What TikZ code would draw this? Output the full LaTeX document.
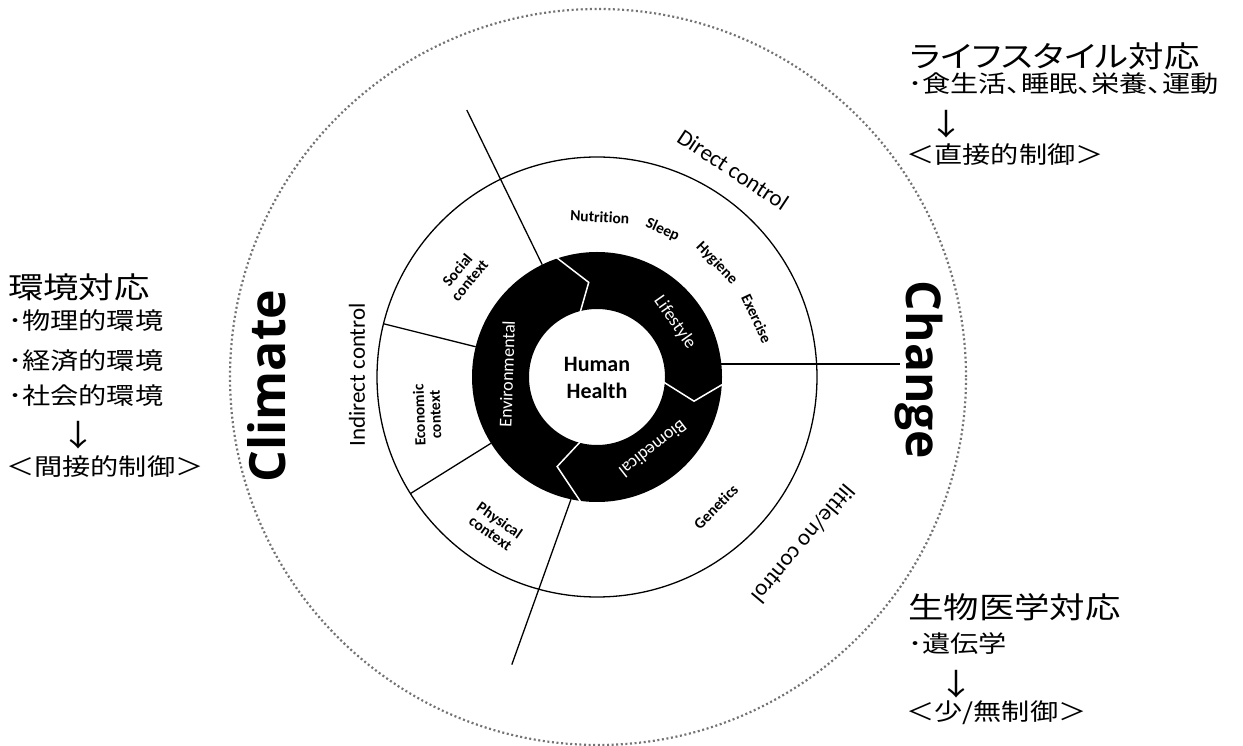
\documentclass[tikz,border=0pt]{standalone}
\usepackage{fontspec}
\setmainfont{Carlito}[Ligatures=NoCommon]
\newfontfamily\bigfont{Open Sans}
\newfontfamily\jpfont[FakeStretch=1.2]{Noto Sans CJK JP}
\newfontfamily\jppfont[FakeStretch=1.2,RawFeature=+palt]{Noto Sans CJK JP}

\tikzset{
  wheelline/.style={black,line width=1.3pt},
  ringtext/.style={white,font=\fontsize{18}{18}\selectfont},
  factor/.style={font=\bfseries\fontsize{15.5}{16}\selectfont,align=center,inner sep=0pt},
  ctrl/.style={font=\fontsize{23}{23}\selectfont,inner sep=0pt},
  jphead/.style={anchor=west,inner sep=0pt,font=\jpfont\fontsize{29.5}{30}\selectfont},
  jpline/.style={anchor=west,inner sep=0pt,font=\jpfont\fontsize{23.5}{24}\selectfont},
  jparrow/.style={inner sep=0pt,font=\jpfont\fontsize{30}{30}\selectfont},
}

\begin{document}
\begin{tikzpicture}[x=1pt,y=1pt]
\useasboundingbox (0,0) rectangle (1243,745);

\begin{scope}[shift={(597,368)}]

%outer dotted circle
\draw[black!55,line width=2.2pt,dash pattern=on 2pt off 2.6pt] (1,0) circle (368pt);

%middle circle
\draw[wheelline] (0,0) circle (220pt);

%black ring
\fill[black,even odd rule] (0,0) circle (125pt) (0,0) circle (68pt);

%ring joints
\draw[white,line width=1.5pt] (109:127) -- (95:95) -- (105:66);
\draw[white,line width=1.5pt] (-3:127) -- (-14:100) -- (-4:66);
\draw[white,line width=1.5pt] (263:127) -- (246:98) -- (256:66);

%spokes
\draw[wheelline] (116:125) -- (116:297);
\draw[wheelline] (166:125) -- (166:220);
\draw[wheelline] (212:125) -- (212:220);
\draw[wheelline] (258:125) -- (253.5:300);
\draw[wheelline] (124.3,13) -- (303,13);

%centre
\node[font=\bfseries\fontsize{22}{27}\selectfont,align=center] (health) at (0,-1) {Human\\Health};

%ring
\node[ringtext,rotate=-55] (life) at (35:95) {Lifestyle};
\node[ringtext,rotate=88] (env) at (178:90) {Environmental};
\node[ringtext,rotate=-142] (bio) at (-52:91) {Biomedical};

%direct
\node[factor,rotate=-3] (nutr) at (89:160) {Nutrition};
\node[factor,rotate=-24] (sleep) at (66:161) {Sleep};
\node[factor,rotate=-46] (hyg) at (43.5:165) {Hygiene};
\node[factor,rotate=-65] (exer) at (20:170) {Exercise};

%indirect
\node[factor,rotate=50] (soc) at (142.7:168) {Social\\context};
\node[factor,rotate=92] (eco) at (192.6:174) {Economic\\context};
\node[factor,rotate=-35] (phys) at (235.8:181) {Physical\\context};

%little
\node[factor,rotate=45] (gen) at (-47.5:176) {Genetics};

%control labels
\node[ctrl,rotate=-33.5] (direct) at (56.7:248) {Direct control};
\node[ctrl,rotate=90] (indirect) at (179.5:240) {Indirect control};
\node[ctrl,rotate=-130] (little) at (-39:265) {little/no control};

%climate change
\node[font=\bigfont\bfseries\fontsize{50}{50}\selectfont,rotate=90] (climate) at (-330,-9) {Climate};
\node[font=\bigfont\bfseries\fontsize{48}{48}\selectfont,rotate=-90] (change) at (322,7) {Change};

\end{scope}

%environment
\node[jphead] (envh) at (8,458) {環境対応};
\node[jpline] (env1) at (8,424) {･物理的環境};
\node[jpline] (env2) at (8,384) {･経済的環境};
\node[jpline] (env3) at (8,349) {･社会的環境};
\node[jparrow] (envarr) at (78,310) {↓};
\node[jpline] (envc) at (6,278) {＜間接的制御＞};

%lifestyle
\node[jphead,font=\jppfont\fontsize{29.5}{30}\selectfont] (lifeh) at (910,689) {ライフスタイル対応};
\node[jpline,font=\jppfont\fontsize{23.5}{24}\selectfont] (life1) at (908,661) {･食生活、睡眠、栄養、運動};
\node[jparrow] (lifearr) at (946,621) {↓};
\node[jpline] (lifec) at (906,590) {＜直接的制御＞};

%biomedical
\node[jphead] (bioh) at (908,138) {生物医学対応};
\node[jpline] (bio1) at (908,101) {･遺伝学};
\node[jparrow] (bioarr) at (956,61) {↓};
\node[jpline] (bioc) at (906,32) {＜少/無制御＞};

\end{tikzpicture}
\end{document}
